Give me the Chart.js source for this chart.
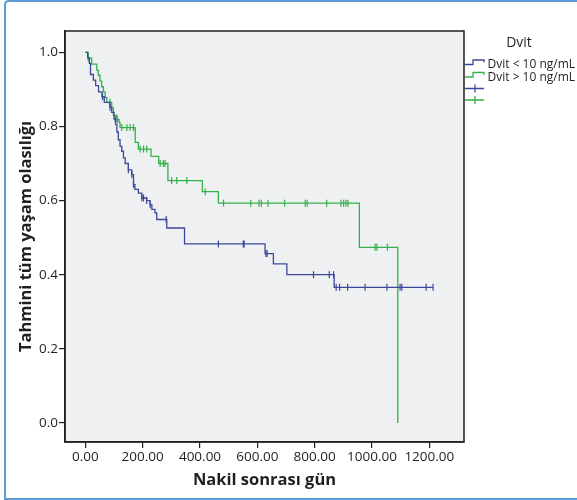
<!doctype html>
<html lang="tr">
<head>
  <meta charset="utf-8" />
  <title>Kaplan-Meier Dvit</title>
  <script src="https://cdn.jsdelivr.net/npm/chart.js"></script>
  <style>
    * { box-sizing: border-box; }
    html, body { margin: 0; padding: 0; background: #fff; overflow: hidden; }
    canvas { display: block; }
  </style>
</head>
<body>
  <canvas id="km" width="577" height="500"></canvas>
  <script>
    // Dvit < 10 ng/mL : step points (day, survival)
    const blueDays = [0, 8, 14, 18, 28, 36, 46, 58, 66, 85, 92, 100, 106, 110, 115, 121, 127, 133, 139, 150, 162, 168, 173, 185, 197, 214, 226, 232, 243, 249, 284, 346, 627, 656, 703, 868, 1213];
    const blueSurv = [1.0, 0.985, 0.97, 0.94, 0.925, 0.91, 0.893, 0.88, 0.865, 0.852, 0.838, 0.82, 0.805, 0.785, 0.764, 0.746, 0.733, 0.715, 0.70, 0.683, 0.67, 0.643, 0.63, 0.62, 0.607, 0.60, 0.589, 0.576, 0.567, 0.549, 0.526, 0.483, 0.457, 0.429, 0.40, 0.366, 0.366];
    const blueCensorDays = [60, 86, 104, 150, 162, 168, 197, 203, 214, 226, 282, 464, 551, 554, 630, 634, 796, 851, 866, 875, 887, 915, 976, 1052, 1098, 1104, 1189, 1213];
    const blueCensorSurv = [0.88, 0.852, 0.82, 0.683, 0.67, 0.643, 0.607, 0.607, 0.60, 0.589, 0.549, 0.483, 0.483, 0.483, 0.457, 0.457, 0.40, 0.40, 0.40, 0.366, 0.366, 0.366, 0.366, 0.366, 0.366, 0.366, 0.366, 0.366];

    // Dvit > 10 ng/mL
    const greenDays = [0, 10, 22, 40, 45, 51, 57, 63, 69, 75, 92, 98, 110, 118, 121, 174, 185, 229, 256, 288, 408, 464, 956, 1090];
    const greenSurv = [1.0, 0.984, 0.968, 0.952, 0.938, 0.922, 0.907, 0.893, 0.878, 0.865, 0.85, 0.83, 0.818, 0.81, 0.797, 0.757, 0.739, 0.719, 0.70, 0.654, 0.624, 0.593, 0.474, 0.0];
    const greenCensorDays = [10, 86, 112, 127, 145, 156, 168, 191, 203, 214, 261, 272, 278, 301, 319, 354, 418, 482, 577, 606, 614, 637, 695, 767, 774, 842, 892, 901, 909, 916, 1011, 1017, 1054];
    const greenCensorSurv = [0.984, 0.865, 0.818, 0.797, 0.797, 0.797, 0.797, 0.739, 0.739, 0.739, 0.70, 0.70, 0.70, 0.654, 0.654, 0.654, 0.624, 0.593, 0.593, 0.593, 0.593, 0.593, 0.593, 0.593, 0.593, 0.593, 0.593, 0.593, 0.593, 0.593, 0.474, 0.474, 0.474];

    const xTicks = [0, 200, 400, 600, 800, 1000, 1200];
    const yTicks = [0, 0.2, 0.4, 0.6, 0.8, 1.0];
    const legendTitle = "Dvit";
    const legendLabels = ["Dvit < 10 ng/mL", "Dvit > 10 ng/mL"];

    const BLUE = "#3c4899";
    const GREEN = "#33b24a";
    const FONT = "'Open Sans', 'DejaVu Sans', sans-serif";
    const INK = "#231f20";

    const pts = (xs, ys) => xs.map((x, i) => ({ x, y: ys[i] }));

    const framePlugin = {
      id: "frame",
      beforeDraw(chart) {
        const { ctx, chartArea: a } = chart;
        ctx.save();
        ctx.fillStyle = "#fff";
        ctx.fillRect(0, 0, chart.width, chart.height);
        // outer light-blue figure frame
        ctx.strokeStyle = "#5b9ad2";
        ctx.lineWidth = 2;
        ctx.beginPath();
        ctx.moveTo(chart.width + 5, 1);
        ctx.lineTo(9, 1);
        ctx.quadraticCurveTo(5, 1, 5, 5);
        ctx.lineTo(5, 499);
        ctx.lineTo(chart.width + 5, 499);
        ctx.stroke();
        // plot background
        ctx.fillStyle = "#eef0f2";
        ctx.fillRect(a.left, a.top, a.right - a.left, a.bottom - a.top);
        ctx.restore();
      },
      afterDraw(chart) {
        const { ctx, chartArea: a } = chart;
        ctx.save();
        ctx.strokeStyle = INK;
        ctx.lineWidth = 1.5;
        ctx.strokeRect(a.left, a.top, a.right - a.left, a.bottom - a.top);

        // legend
        ctx.fillStyle = INK;
        ctx.font = "14px " + FONT;
        ctx.textAlign = "center";
        ctx.textBaseline = "middle";
        ctx.fillText(legendTitle, 519, 43);

        ctx.font = "12px " + FONT;
        ctx.textAlign = "left";
        const colors = [BLUE, GREEN];
        colors.forEach((c, i) => {
          const y = 64.5 + i * 12.5;
          ctx.strokeStyle = c;
          ctx.lineWidth = 1.3;
          ctx.beginPath();
          ctx.moveTo(465, y);
          ctx.lineTo(473, y);
          ctx.lineTo(473, y - 4.5);
          ctx.lineTo(484, y - 4.5);
          ctx.lineTo(484, y - 2);
          ctx.stroke();
          ctx.fillStyle = INK;
          ctx.fillText(legendLabels[i], 487.5, y + 0.5);
        });
        colors.forEach((c, i) => {
          const y = 88.5 + i * 11.5;
          ctx.strokeStyle = c;
          ctx.lineWidth = 1.3;
          ctx.beginPath();
          ctx.moveTo(465, y);
          ctx.lineTo(484, y);
          ctx.moveTo(475, y - 4);
          ctx.lineTo(475, y + 4);
          ctx.stroke();
        });
        ctx.restore();
      }
    };

    const curve = (label, data, color) => ({
      label, data, showLine: true, stepped: "before",
      borderColor: color, borderWidth: 1.3, pointRadius: 0, fill: false
    });
    const censor = (label, data, color) => ({
      label, data, showLine: false,
      pointStyle: "line", rotation: 90, pointRadius: 3.5,
      borderColor: color, backgroundColor: color, pointBorderWidth: 1.2
    });

    new Chart(document.getElementById("km"), {
      type: "scatter",
      data: {
        datasets: [
          curve("Dvit < 10 ng/mL", pts(blueDays, blueSurv), BLUE),
          curve("Dvit > 10 ng/mL", pts(greenDays, greenSurv), GREEN),
          censor("Dvit < 10 ng/mL-censored", pts(blueCensorDays, blueCensorSurv), BLUE),
          censor("Dvit > 10 ng/mL-censored", pts(greenCensorDays, greenCensorSurv), GREEN)
        ]
      },
      options: {
        responsive: false,
        animation: false,
        devicePixelRatio: 1,
        layout: { padding: { top: 31, right: 113, bottom: 0, left: 0 } },
        plugins: { legend: { display: false }, tooltip: { enabled: false } },
        scales: {
          x: {
            type: "linear", min: -71, max: 1321,
            afterBuildTicks: (s) => { s.ticks = xTicks.map((v) => ({ value: v })); },
            afterFit: (s) => { s.height = 58; },
            ticks: { callback: (v) => Number(v).toFixed(2), color: INK, font: { family: FONT, size: 13.5 }, padding: 1, maxRotation: 0, autoSkip: false },
            grid: { drawOnChartArea: false, drawTicks: true, tickLength: 6, color: INK, lineWidth: 1.2 },
            border: { display: true, color: INK, width: 1.5 },
            title: { display: true, text: "Nakil sonrası gün", color: INK, font: { family: FONT, size: 16.5, weight: "bold" }, padding: { top: 0, bottom: 10 } }
          },
          y: {
            type: "linear", min: -0.0512, max: 1.0574,
            afterBuildTicks: (s) => { s.ticks = yTicks.map((v) => ({ value: v })); },
            afterFit: (s) => { s.width = 65; },
            ticks: { callback: (v) => Number(v).toFixed(1), color: INK, font: { family: FONT, size: 13.5 }, padding: 1, autoSkip: false },
            grid: { drawOnChartArea: false, drawTicks: true, tickLength: 6, color: INK, lineWidth: 1.2 },
            border: { display: true, color: INK, width: 1.5 },
            title: { display: true, text: "Tahmini tüm yaşam olasılığı", color: INK, font: { family: FONT, size: 16.5, weight: "bold" }, padding: { top: 16, bottom: 0 } }
          }
        }
      },
      plugins: [framePlugin]
    });
  </script>
</body>
</html>
